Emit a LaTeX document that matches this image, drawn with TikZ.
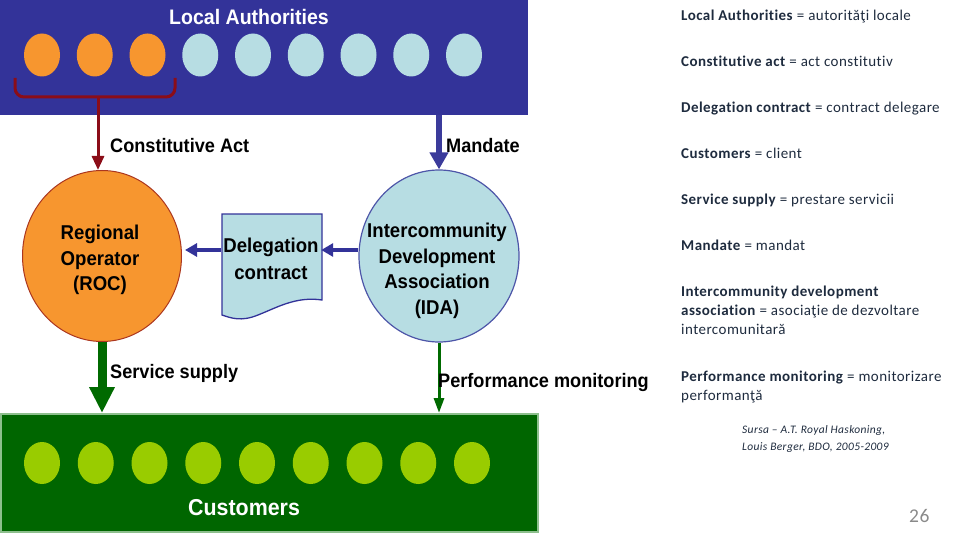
\documentclass[tikz,border=0pt]{standalone}
\usepackage{fontspec}
\setmainfont{Carlito}[Ligatures=NoCommon, LetterSpace=3]
\newfontfamily\dfont[FakeStretch=0.93]{Liberation Sans}
\usetikzlibrary{shapes.geometric,arrows.meta,calc}
\definecolor{bannerblue}{HTML}{333399}
\definecolor{dotblue}{HTML}{B7DDE3}
\definecolor{orangec}{HTML}{F7962F}
\definecolor{darkred}{HTML}{8B0D18}
\definecolor{custgreen}{HTML}{006600}
\definecolor{custedge}{HTML}{8DBF8D}
\definecolor{limeg}{HTML}{99CC00}
\definecolor{arrgreen}{HTML}{006A00}
\definecolor{arrblue}{HTML}{3B3B9B}
\definecolor{txtc}{HTML}{1E2B3E}
\definecolor{numgray}{HTML}{8A8A8A}
\begin{document}
\begin{tikzpicture}[x=1pt,y=-1pt,
  lbl/.style={font=\dfont\bfseries\fontsize{19.5}{22}\selectfont, inner sep=0, anchor=base west},
  circtext/.style={font=\dfont\bfseries\fontsize{20}{25.5}\selectfont, align=center, inner sep=0},
  orangedot/.style={ellipse, fill=orangec, minimum width=36, minimum height=43, inner sep=0},
  bluedot/.style={ellipse, fill=dotblue, minimum width=36, minimum height=43, inner sep=0},
  limedot/.style={ellipse, fill=limeg, minimum width=36, minimum height=42, inner sep=0},
  redarrow/.style={draw=darkred, line width=3, -{Triangle[length=14pt,width=12pt]}},
  bluearrow/.style={draw=arrblue, line width=6, -{Triangle[length=17pt,width=18pt]}},
  harrow/.style={draw=bannerblue, line width=4.5, -{Triangle[length=12pt,width=13pt]}},
  thickgreen/.style={draw=arrgreen, line width=9, -{Triangle[length=26pt,width=24pt]}},
  thingreen/.style={draw=arrgreen, line width=3, -{Triangle[length=15pt,width=10pt]}},
  rt/.style={font=\fontsize{15}{19}\selectfont, text=txtc, anchor=base west, inner sep=0},
  src/.style={font=\itshape\fontsize{11.5}{17}\selectfont, text=txtc, anchor=base west, inner sep=0}
]
\useasboundingbox (0,0) rectangle (960,540);

% Local authorities banner
\node[fill=bannerblue, minimum width=528, minimum height=115, anchor=north west, inner sep=0] (banner) at (0,0) {};
\node[font=\dfont\bfseries\fontsize{21}{21}\selectfont, text=white, anchor=base, inner sep=0] (title) at (249,25) {Local Authorities};
\foreach \i in {0,1,2} \node[orangedot] (la\i) at ({42+52.75*\i},55) {};
\foreach \i in {3,...,8} \node[bluedot] (la\i) at ({42+52.75*\i},55) {};
\draw[darkred, line width=3, rounded corners=9] (15,78) -- (15,97) -- (175,97) -- (175,78);
\coordinate (bk) at (98,97);

% main ellipses
\node[ellipse, fill=orangec, draw=darkred!70!orangec, line width=1, minimum width=159, minimum height=171, inner sep=0] (roc) at (102,256) {};
\node[circtext] (roct) at (100,260) {Regional\\Operator\\(ROC)};
\node[ellipse, fill=dotblue, draw=bannerblue!80!dotblue, line width=1.2, minimum width=160, minimum height=172, inner sep=0] (ida) at (439,256) {};
\node[circtext] (idat) at (437,271) {Intercommunity\\Development\\Association\\(IDA)};

% delegation contract document
\draw[fill=dotblue, draw=bannerblue, line width=1.3] (222,214) -- (322,214) -- (322,300)
  .. controls (296,296) and (276,308) .. (258,315)
  .. controls (241,322) and (231,318) .. (222,315) -- cycle;
\node[font=\dfont\bfseries\fontsize{20}{27}\selectfont, align=center, inner sep=0, minimum width=100] (doc) at (271,259) {Delegation\\contract};

% customers
\node[fill=custgreen, draw=custedge, line width=1.5, minimum width=537, minimum height=118, anchor=north west, inner sep=0] (cust) at (0,413) {};
\foreach \i in {0,...,8} \node[limedot] (cu\i) at ({42+53.75*\i},463) {};
\node[font=\dfont\bfseries\fontsize{23}{23}\selectfont, text=white, anchor=base west, inner sep=0] (custlbl) at (188,515) {Customers};

% connectors
\coordinate (ay) at (0,250);
\draw[redarrow] (bk) -- (bk |- roc.north);
\draw[bluearrow] (banner.south -| ida.north) -- (ida.north);
\draw[harrow] (ida.west |- ay) -- (doc.east |- ay);
\draw[harrow, shorten >=3pt] (doc.west |- ay) -- (roc.east |- ay);
\draw[thickgreen] (roc.south) -- (roc.south |- cust.north);
\draw[thingreen] (ida.south) -- (ida.south |- cust.north);

% connector labels
\node[lbl] (lca) at (110,153) {Constitutive Act};
\node[lbl] (lman) at (446,153) {Mandate};
\node[lbl] (lss) at (110,378) {Service supply};
\node[lbl] (lpm) at (438,387) {Performance monitoring};

% glossary
\node[rt] (g1) at (681,20.7) {\textbf{Local Authorities} = autorităţi locale};
\node[rt] (g2) at (681,66.7) {\textbf{Constitutive act} = act constitutiv};
\node[rt] (g3) at (681,112.7) {\textbf{Delegation contract} = contract delegare};
\node[rt] (g4) at (681,158.7) {\textbf{Customers} = client};
\node[rt] (g5) at (681,204.7) {\textbf{Service supply} = prestare servicii};
\node[rt] (g6) at (681,250.7) {\textbf{Mandate} = mandat};
\node[rt] (g7a) at (681,296.7) {\textbf{Intercommunity development}};
\node[rt] (g7b) at (681,315.7) {\textbf{association} = asociaţie de dezvoltare};
\node[rt] (g7c) at (681,334.7) {intercomunitară};
\node[rt] (g8a) at (681,381.7) {\textbf{Performance monitoring} = monitorizare};
\node[rt] (g8b) at (681,400.7) {performanţă};
\node[src] (s1) at (742,433) {Sursa -- A.T. Royal Haskoning,};
\node[src] (s2) at (742,450) {Louis Berger, BDO, 2005-2009};
\node[font=\fontsize{19.5}{20}\selectfont, text=numgray, anchor=base west, inner sep=0] (pg) at (909,522) {26};
\end{tikzpicture}
\end{document}
